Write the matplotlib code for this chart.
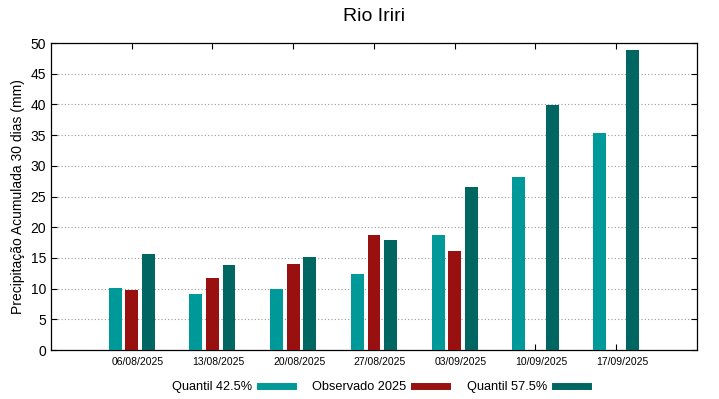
import numpy as np
import matplotlib
matplotlib.use("Agg")
import matplotlib.pyplot as plt
from matplotlib.lines import Line2D

plt.rcParams["font.family"] = ["Liberation Sans", "DejaVu Sans"]

# Data
dates = ["06/08/2025", "13/08/2025", "20/08/2025", "27/08/2025",
         "03/09/2025", "10/09/2025", "17/09/2025"]
q425 = [10.1, 9.1, 9.9, 12.4, 18.7, 28.2, 35.4]
obs2025 = [9.8, 11.7, 14.0, 18.7, 16.1, np.nan, np.nan]
q575 = [15.6, 13.8, 15.1, 17.9, 26.5, 39.9, 48.9]

labels = ["Quantil 42.5%", "Observado 2025", "Quantil 57.5%"]
colors = ["#009999", "#991010", "#006662"]

fig = plt.figure(figsize=(7.19, 3.99), dpi=100)
ax = fig.add_axes([0.0709, 0.1228, 0.8985, 0.7694])

x = np.arange(len(dates))
w = 0.16
off = 0.205
ax.bar(x - off, q425, w, color=colors[0], zorder=3)
ax.bar(x, obs2025, w, color=colors[1], zorder=3)
ax.bar(x + off, q575, w, color=colors[2], zorder=3)

ax.set_xlim(-1, 7)
ax.set_ylim(0, 50)
ax.set_yticks(np.arange(0, 51, 5))
# tick marks on the group centres, labels a touch to the right (gnuplot style)
ax.set_xticks(x)
ax.set_xticklabels([])
ax.set_xticks(x + 0.075, minor=True)
ax.set_xticklabels(dates, minor=True, fontsize=7.5)
ax.tick_params(axis="x", which="minor", length=0, pad=5)

ax.tick_params(axis="both", which="major", direction="in", top=True, right=True,
               length=4, width=0.8)
ax.tick_params(axis="y", labelsize=10)
ax.yaxis.grid(True, linestyle=(0, (1, 2)), color="#999999", linewidth=0.8, zorder=0)
ax.set_axisbelow(True)
for s in ax.spines.values():
    s.set_linewidth(0.9)

ax.set_ylabel("Precipitação Acumulada 30 dias (mm)", fontsize=10, labelpad=4)
ax.set_title("Rio Iriri", fontsize=14, pad=16)

handles = [Line2D([0], [0], color=c, linewidth=5) for c in colors]
fig.legend(handles, labels, loc="center", bbox_to_anchor=(0.5285, 0.03), ncol=3,
           frameon=False, markerfirst=False, fontsize=9.2, handlelength=2.6,
           columnspacing=1.5, handletextpad=0.6)

fig.savefig("out.png", dpi=100)
